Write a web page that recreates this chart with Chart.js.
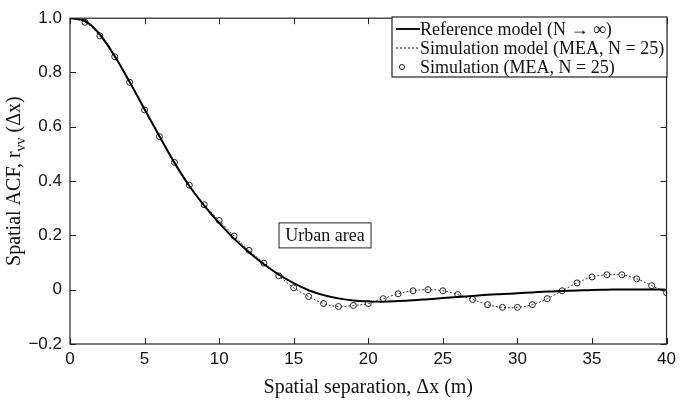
<!DOCTYPE html>
<html>
<head>
<meta charset="utf-8">
<script src="https://cdn.jsdelivr.net/npm/chart.js@4/dist/chart.umd.min.js"></script>
<style>
  html, body { margin: 0; padding: 0; background: #fff; }
  #wrap { width: 681px; height: 403px; }
</style>
</head>
<body>
<div id="wrap"><canvas id="acfChart"></canvas></div>
<script>
// Spatial separation (m)
const separation = [0, 1, 2, 3, 4, 5, 6, 7, 8, 9, 10, 11, 12, 13, 14, 15, 16, 17, 18, 19, 20,
    21, 22, 23, 24, 25, 26, 27, 28, 29, 30, 31, 32, 33, 34, 35, 36, 37, 38, 39, 40];

// Reference model (N -> infinity)
const referenceModel = [1.0, 0.99, 0.94, 0.86, 0.765, 0.665, 0.565, 0.468, 0.382, 0.31, 0.246,
    0.188, 0.138, 0.094, 0.056, 0.024, -0.002, -0.02, -0.032, -0.04, -0.043,
    -0.044, -0.042, -0.039, -0.035, -0.031, -0.027, -0.023, -0.019, -0.016, -0.013,
    -0.01, -0.007, -0.005, -0.003, -0.001, 0.0, 0.001, 0.001, 0.001, 0.0];

// Simulation (MEA, N = 25)
const simulation = [1.0, 0.985, 0.935, 0.858, 0.764, 0.662, 0.564, 0.469, 0.385, 0.313, 0.255,
    0.198, 0.145, 0.098, 0.051, 0.007, -0.025, -0.051, -0.062, -0.058, -0.051,
    -0.033, -0.015, -0.004, 0.0, -0.004, -0.018, -0.036, -0.055, -0.065, -0.065,
    -0.055, -0.033, -0.004, 0.025, 0.047, 0.055, 0.055, 0.040, 0.015, -0.011];

const xTicks = [0, 5, 10, 15, 20, 25, 30, 35, 40];
const yTicks = [-0.2, 0, 0.2, 0.4, 0.6, 0.8, 1.0];
const yTickLabels = ['\u22120.2', '0', '0.2', '0.4', '0.6', '0.8', '1.0'];

const legendLabels = ['Reference model (N \u2192 \u221e)', 'Simulation model (MEA, N = 25)', 'Simulation (MEA, N = 25)'];

const toPoints = (ys) => ys.map((y, i) => ({ x: separation[i], y: y }));

const serif = '"Liberation Serif", "DejaVu Serif", serif';
const sans = '"Liberation Sans", Arial, sans-serif';

// Frame, inward ticks, titles, legend and the text box
const decorations = {
    id: 'decorations',
    afterDraw(chart) {
        const ctx = chart.ctx;
        const a = chart.chartArea;
        const xs = chart.scales.x;
        const ys = chart.scales.y;
        ctx.save();

        // axes box
        ctx.strokeStyle = '#222';
        ctx.lineWidth = 1.2;
        ctx.strokeRect(a.left, a.top, a.right - a.left, a.bottom - a.top);

        // inward ticks on all four sides
        ctx.lineWidth = 1;
        ctx.beginPath();
        xTicks.forEach(v => {
            const px = Math.round(xs.getPixelForValue(v)) + 0.5;
            ctx.moveTo(px, a.bottom); ctx.lineTo(px, a.bottom - 6);
            ctx.moveTo(px, a.top); ctx.lineTo(px, a.top + 6);
        });
        yTicks.forEach(v => {
            const py = Math.round(ys.getPixelForValue(v)) + 0.5;
            ctx.moveTo(a.left, py); ctx.lineTo(a.left + 6, py);
            ctx.moveTo(a.right, py); ctx.lineTo(a.right - 6, py);
        });
        ctx.stroke();

        // x axis title
        ctx.fillStyle = '#111';
        ctx.font = '20px ' + serif;
        ctx.textAlign = 'center';
        ctx.textBaseline = 'middle';
        ctx.fillText('Spatial separation, \u0394x (m)', (a.left + a.right) / 2, 388);

        // y axis title with subscript
        ctx.save();
        ctx.translate(15, (a.top + a.bottom) / 2);
        ctx.rotate(-Math.PI / 2);
        const p1 = 'Spatial ACF, r';
        const sub = 'vv';
        const p2 = ' (\u0394x)';
        ctx.font = '20px ' + serif;
        const w1 = ctx.measureText(p1).width;
        const w3 = ctx.measureText(p2).width;
        ctx.font = '14px ' + serif;
        const w2 = ctx.measureText(sub).width;
        let cx = -(w1 + w2 + w3) / 2;
        ctx.textAlign = 'left';
        ctx.font = '20px ' + serif;
        ctx.fillText(p1, cx, 0);
        cx += w1;
        ctx.font = '14px ' + serif;
        ctx.fillText(sub, cx, 6);
        cx += w2;
        ctx.font = '20px ' + serif;
        ctx.fillText(p2, cx, 0);
        ctx.restore();

        // "Urban area" box
        const bx = xs.getPixelForValue(17.1);
        const by = ys.getPixelForValue(0.2);
        ctx.font = '18px ' + serif;
        ctx.textAlign = 'center';
        ctx.fillStyle = '#fff';
        ctx.fillRect(bx - 46, by - 12.5, 92, 25);
        ctx.strokeStyle = '#222';
        ctx.strokeRect(bx - 46, by - 12.5, 92, 25);
        ctx.fillStyle = '#111';
        ctx.fillText('Urban area', bx, by + 1);

        // legend
        const lx = 392, ly = 17, lw = 275, lh = 60;
        ctx.fillStyle = '#fff';
        ctx.fillRect(lx, ly, lw, lh);
        ctx.strokeStyle = '#222';
        ctx.lineWidth = 1.2;
        ctx.strokeRect(lx, ly, lw, lh);
        const rows = [29, 48, 67];
        ctx.font = '18px ' + serif;
        ctx.textAlign = 'left';
        legendLabels.forEach((label, i) => {
            const ry = rows[i];
            ctx.strokeStyle = '#111';
            if (i === 0) {
                ctx.lineWidth = 2;
                ctx.setLineDash([]);
                ctx.beginPath(); ctx.moveTo(396, ry); ctx.lineTo(420, ry); ctx.stroke();
            } else if (i === 1) {
                ctx.lineWidth = 1;
                ctx.setLineDash([2, 2]);
                ctx.beginPath(); ctx.moveTo(396, ry); ctx.lineTo(420, ry); ctx.stroke();
                ctx.setLineDash([]);
            } else {
                ctx.lineWidth = 1;
                ctx.beginPath(); ctx.arc(402, ry, 2.5, 0, Math.PI * 2); ctx.stroke();
            }
            ctx.fillStyle = '#111';
            ctx.fillText(label, 420, ry + 1);
        });

        ctx.restore();
    }
};

new Chart(document.getElementById('acfChart'), {
    type: 'line',
    data: {
        datasets: [{
            label: legendLabels[0],
            data: toPoints(referenceModel),
            borderColor: '#000',
            borderWidth: 2,
            pointRadius: 0,
            tension: 0.4,
            fill: false
        }, {
            label: legendLabels[1],
            data: toPoints(simulation),
            borderColor: '#333',
            borderWidth: 1,
            borderDash: [2, 2],
            pointRadius: 0,
            tension: 0.4,
            fill: false
        }, {
            label: legendLabels[2],
            data: toPoints(simulation).slice(1),
            showLine: false,
            pointRadius: 3,
            pointBorderWidth: 1,
            pointBorderColor: '#222',
            pointBackgroundColor: 'rgba(255,255,255,0)'
        }]
    },
    options: {
        responsive: true,
        maintainAspectRatio: false,
        animation: false,
        layout: { padding: { top: 14, right: 11, left: 0, bottom: 0 } },
        scales: {
            x: {
                type: 'linear',
                min: 0,
                max: 40,
                afterFit: (scale) => { scale.height = 59; },
                afterBuildTicks: (scale) => { scale.ticks = xTicks.map(v => ({ value: v })); },
                grid: { display: false, drawTicks: false },
                border: { display: false },
                ticks: {
                    padding: 5,
                    color: '#111',
                    font: { family: sans, size: 17 },
                    maxRotation: 0,
                    callback: (v) => String(v)
                }
            },
            y: {
                min: -0.2,
                max: 1.0,
                afterFit: (scale) => { scale.width = 70; },
                afterBuildTicks: (scale) => { scale.ticks = yTicks.map(v => ({ value: v })); },
                grid: { display: false, drawTicks: false },
                border: { display: false },
                ticks: {
                    padding: 8,
                    color: '#111',
                    font: { family: sans, size: 17 },
                    callback: (v) => {
                        const i = yTicks.findIndex(t => Math.abs(t - v) < 1e-9);
                        return i >= 0 ? yTickLabels[i] : '';
                    }
                }
            }
        },
        plugins: {
            legend: { display: false },
            tooltip: { enabled: false }
        }
    },
    plugins: [decorations]
});
</script>
</body>
</html>
